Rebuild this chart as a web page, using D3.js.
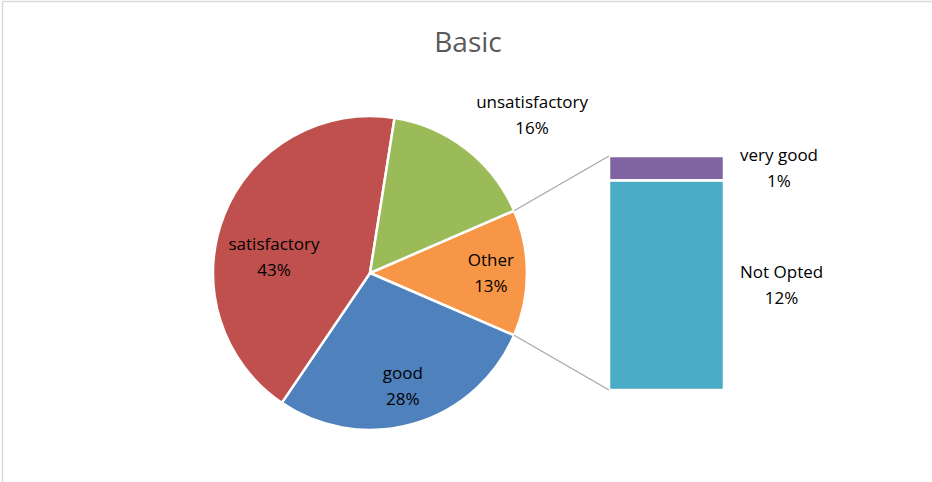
<!DOCTYPE html>
<html>
<head>
<meta charset="utf-8">
<script src="https://cdn.jsdelivr.net/npm/d3@7"></script>
<style>
  body { margin: 0; background: #fff; }
  text { font-family: "Open Sans", Lato, sans-serif; }
</style>
</head>
<body>
<div id="chart"></div>
<script>
// Pie slices (clockwise, starting with the "Other" slice)
const pieNames = ['Other', 'good', 'satisfactory', 'unsatisfactory'];
const pieValues = [13, 28, 43, 16];
const pieColors = ['#f79646', '#4f81bd', '#c0504d', '#9bbb59'];

// Breakdown of "Other" (stacked bar, bottom to top)
const barNames = ['Not Opted', 'very good'];
const barValues = [11.65, 1.35];
const barColors = ['#4bacc6', '#8064a2'];

const width = 932;
const height = 482;

const svg = d3.select('#chart')
  .append('svg')
  .attr('width', width)
  .attr('height', height);

// chart frame
svg.append('rect')
  .attr('x', 2.5)
  .attr('y', 1.5)
  .attr('width', width + 10)
  .attr('height', height + 10)
  .attr('fill', 'none')
  .attr('stroke', '#d9d9d9')
  .attr('stroke-width', 1.5);

svg.append('text')
  .attr('x', 468)
  .attr('y', 52)
  .attr('text-anchor', 'middle')
  .style('font-size', '28px')
  .style('fill', '#595959')
  .text('Basic');

const total = d3.sum(pieValues);
const cx = 370, cy = 273, radius = 157;
const fontSize = '17px';

// centre the "Other" slice at 3 o'clock
const otherSpan = pieValues[0] / total * 2 * Math.PI;
const start = Math.PI / 2 - otherSpan / 2;

const pie = d3.pie()
  .sort(null)
  .value(d => d)
  .startAngle(start)
  .endAngle(start + 2 * Math.PI);

const arcs = pie(pieValues);
const arc = d3.arc().innerRadius(0).outerRadius(radius);

const g = svg.append('g')
  .attr('transform', `translate(${cx},${cy})`);

g.selectAll('.slice')
  .data(arcs)
  .enter().append('path')
  .attr('class', 'slice')
  .attr('d', arc)
  .attr('fill', (_, i) => pieColors[i])
  .attr('stroke', '#fff')
  .attr('stroke-width', 2.5)
  .attr('stroke-linejoin', 'round');

// label placement (radius factor, angle shift in degrees) per slice
const labelLayout = [
  { r: 0.77, da: 0 },
  { r: 0.75, da: 0 },
  { r: 0.62, da: -12 },
  { r: 1.44, da: 8 }
];

const labels = g.selectAll('.plabel')
  .data(arcs)
  .enter().append('text')
  .attr('class', 'plabel')
  .attr('text-anchor', 'middle')
  .style('font-size', fontSize)
  .style('fill', '#000')
  .attr('transform', (d, i) => {
    const a = (d.startAngle + d.endAngle) / 2 + labelLayout[i].da * Math.PI / 180;
    const r = radius * labelLayout[i].r;
    return `translate(${r * Math.sin(a)},${-r * Math.cos(a)})`;
  });

labels.append('tspan')
  .attr('x', 0)
  .attr('dy', '-0.42em')
  .text((_, i) => pieNames[i]);

labels.append('tspan')
  .attr('x', 0)
  .attr('dy', '1.53em')
  .text((_, i) => Math.round(pieValues[i] / total * 100) + '%');

// stacked bar for "Other"
const barX = 609, barW = 115;
const y = d3.scaleLinear()
  .domain([0, d3.sum(barValues)])
  .range([390, 156]);

const stacked = [];
let acc = 0;
barValues.forEach((v, i) => {
  stacked.push({ name: barNames[i], value: v, y0: acc, y1: acc + v, color: barColors[i] });
  acc += v;
});

svg.selectAll('.bar')
  .data(stacked)
  .enter().append('rect')
  .attr('class', 'bar')
  .attr('x', barX)
  .attr('width', barW)
  .attr('y', d => y(d.y1))
  .attr('height', d => y(d.y0) - y(d.y1))
  .attr('fill', d => d.color)
  .attr('stroke', '#fff')
  .attr('stroke-width', 2.5);

// bar labels: block starts 16px right of the bar, lines centred within it
const blabels = svg.selectAll('.blabel')
  .data(stacked)
  .enter().append('text')
  .attr('class', 'blabel')
  .attr('text-anchor', 'middle')
  .style('font-size', fontSize)
  .style('fill', '#000');

blabels.append('tspan')
  .attr('class', 'l1')
  .attr('x', 0)
  .attr('dy', '-0.42em')
  .text(d => d.name);

blabels.append('tspan')
  .attr('x', 0)
  .attr('dy', '1.53em')
  .text(d => Math.round(d.value / total * 100) + '%');

blabels.attr('transform', function(d) {
  const w = this.querySelector('.l1').getComputedTextLength();
  const mid = Math.max(y((d.y0 + d.y1) / 2), y(d3.sum(barValues)) + 12);
  return `translate(${barX + barW + 16 + w / 2},${mid})`;
});

// connector lines from the "Other" slice to the bar
const otherArc = arcs[0];
const edge = a => [cx + radius * Math.sin(a), cy - radius * Math.cos(a)];
const p1 = edge(otherArc.startAngle);
const p2 = edge(otherArc.endAngle);

svg.append('line')
  .attr('x1', p1[0]).attr('y1', p1[1])
  .attr('x2', barX).attr('y2', y(d3.sum(barValues)))
  .attr('stroke', '#a6a6a6')
  .attr('stroke-width', 1.2);

svg.append('line')
  .attr('x1', p2[0]).attr('y1', p2[1])
  .attr('x2', barX).attr('y2', y(0))
  .attr('stroke', '#a6a6a6')
  .attr('stroke-width', 1.2);
</script>
</body>
</html>
